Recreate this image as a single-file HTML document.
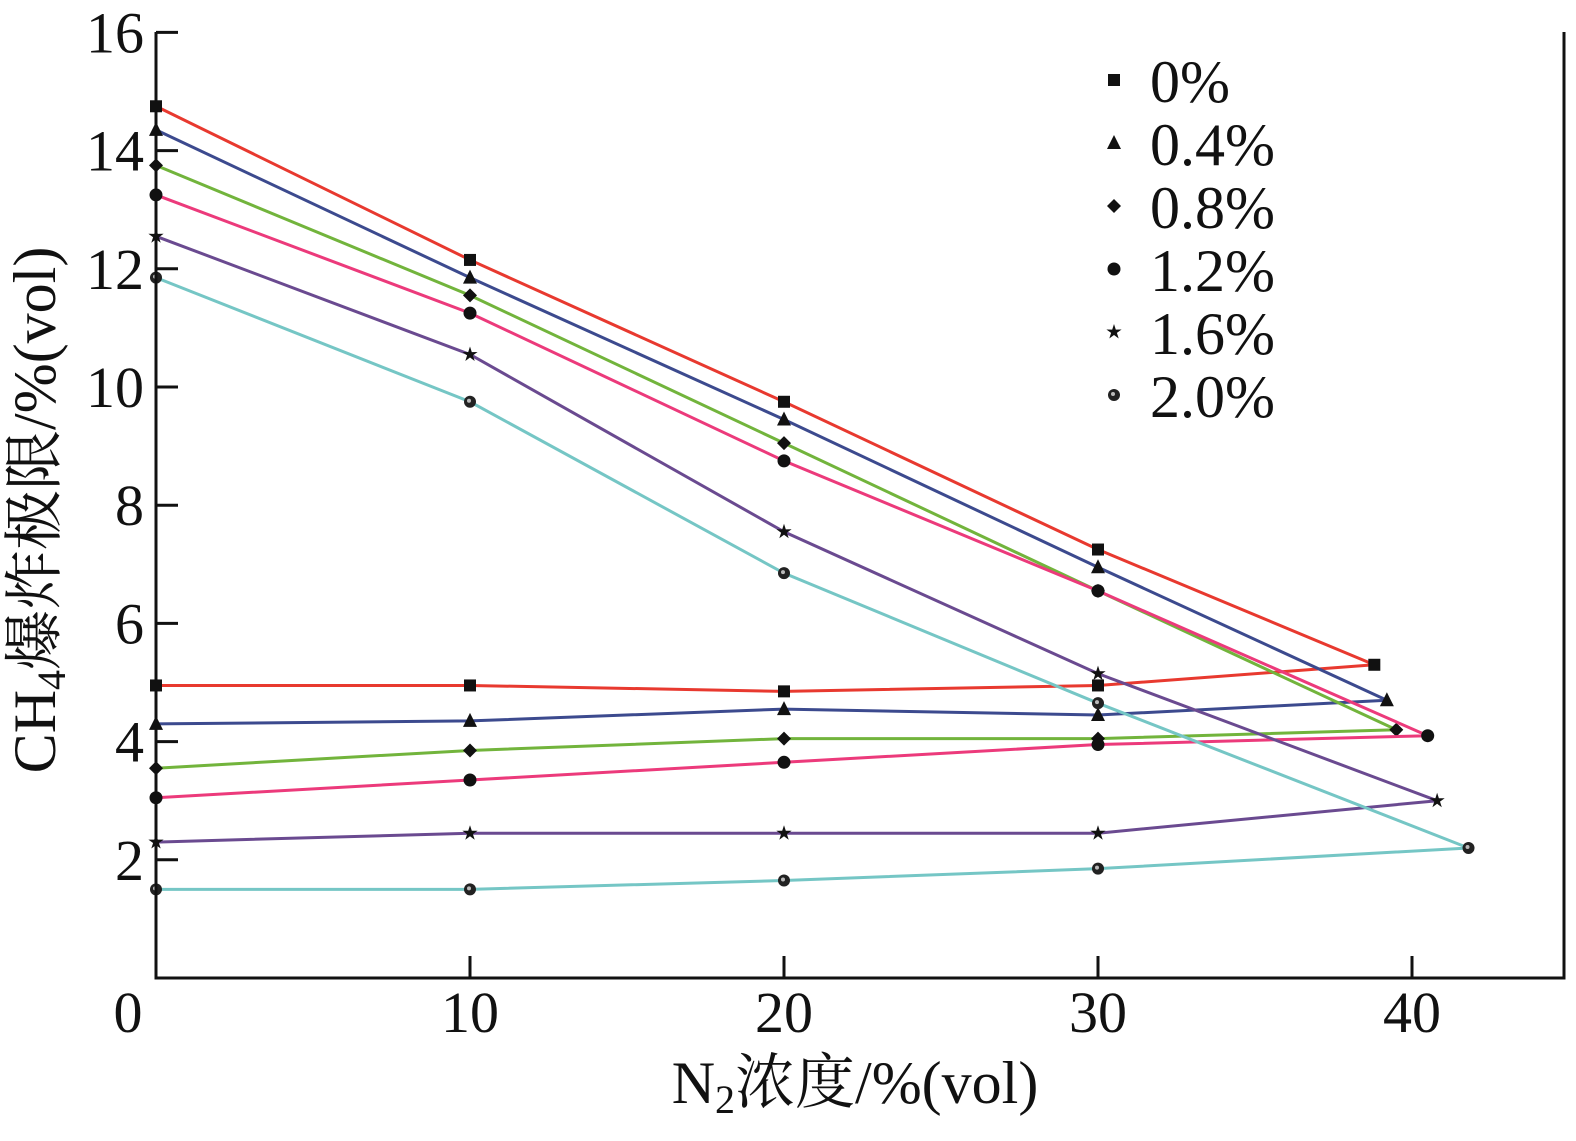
<!DOCTYPE html>
<html><head><meta charset="utf-8"><style>
body{margin:0;background:#fff;}
svg{display:block;font-family:"Liberation Serif","Noto Serif CJK SC",serif;}
</style></head><body>
<svg id="chart" width="1576" height="1141" viewBox="0 0 1576 1141">
<g id="plot"></g>
</svg>
<script>
const xVals=[0,10,20,30];
const seriesNames=["0%","0.4%","0.8%","1.2%","1.6%","2.0%"];
const endX=[38.8,39.2,39.5,40.5,40.8,41.8];
const endY=[5.3,4.7,4.2,4.1,3.0,2.2];
const upper0=[14.75,12.15,9.75,7.25];
const upper1=[14.35,11.85,9.45,6.95];
const upper2=[13.75,11.55,9.05,6.55];
const upper3=[13.25,11.25,8.75,6.55];
const upper4=[12.55,10.55,7.55,5.15];
const upper5=[11.85,9.75,6.85,4.65];
const lower0=[4.95,4.95,4.85,4.95];
const lower1=[4.3,4.35,4.55,4.45];
const lower2=[3.55,3.85,4.05,4.05];
const lower3=[3.05,3.35,3.65,3.95];
const lower4=[2.3,2.45,2.45,2.45];
const lower5=[1.5,1.5,1.65,1.85];
const xTicks=[0,10,20,30,40];
const yTicks=[2,4,6,8,10,12,14,16];
const uppers=[upper0,upper1,upper2,upper3,upper4,upper5];
const lowers=[lower0,lower1,lower2,lower3,lower4,lower5];
const colors=["#e8392f","#3c4a8e","#72b43c","#ec3a7b","#6a4a90","#75c6c5"];
const markers=["square","triangle","diamond","circle","star","ball"];
const X0=156,XS=31.4,Y0=978,YS=59.1,XR=1564,YT=32;
const sx=v=>X0+v*XS, sy=v=>Y0-v*YS;
const NS="http://www.w3.org/2000/svg";
const g=document.getElementById('plot');
function mk(t,a,p){const e=document.createElementNS(NS,t);for(const k in a)e.setAttribute(k,a[k]);(p||g).appendChild(e);return e;}
function marker(type,x,y,p){
 let e;
 if(type==="square")e=mk('rect',{x:x-6,y:y-6,width:12,height:12,fill:'#111'},p);
 else if(type==="triangle")e=mk('polygon',{points:`${x},${y-8} ${x-7},${y+6} ${x+7},${y+6}`,fill:'#111'},p);
 else if(type==="diamond")e=mk('polygon',{points:`${x},${y-7} ${x+7},${y} ${x},${y+7} ${x-7},${y}`,fill:'#111'},p);
 else if(type==="circle")e=mk('circle',{cx:x,cy:y,r:6.5,fill:'#111'},p);
 else if(type==="star"){let pts=[];for(let i=0;i<10;i++){const r=i%2?3:8,a=-Math.PI/2+i*Math.PI/5;pts.push((x+r*Math.cos(a)).toFixed(1)+','+(y+r*Math.sin(a)).toFixed(1));}e=mk('polygon',{points:pts.join(' '),fill:'#111'},p);}
 else {e=mk('circle',{cx:x,cy:y,r:6,fill:'#222'},p);mk('circle',{cx:x-1,cy:y-1,r:2,fill:'#bbb'},p);}
 return e;
}
for(let s=0;s<6;s++){
 const grp=mk('g',{});
 
 
 const up=xVals.map((x,i)=>sx(x)+','+sy(uppers[s][i]));
 const lo=xVals.map((x,i)=>sx(x)+','+sy(lowers[s][i]));
 const pts=up.concat([sx(endX[s])+','+sy(endY[s])]).concat(lo.slice().reverse());
 const pl=mk('polyline',{points:pts.join(' '),fill:'none',stroke:colors[s],'stroke-width':3},grp);
 
 
 xVals.forEach((x,i)=>{marker(markers[s],sx(x),sy(uppers[s][i]),grp);marker(markers[s],sx(x),sy(lowers[s][i]),grp);});
 marker(markers[s],sx(endX[s]),sy(endY[s]),grp);
}
const ax=mk('g',{});


mk('polyline',{points:`${X0},${YT} ${X0},${Y0} ${XR},${Y0} ${XR},${YT}`,fill:'none',stroke:'#111','stroke-width':3},ax);
yTicks.forEach(v=>{mk('line',{x1:X0,x2:X0+22,y1:sy(v),y2:sy(v),stroke:'#111','stroke-width':3},ax);
 const t=mk('text',{x:X0-12,y:sy(v)+20,'font-size':58,'text-anchor':'end',fill:'#111'},ax);t.textContent=v;
 });
xTicks.forEach(v=>{if(v>0)mk('line',{x1:sx(v),x2:sx(v),y1:Y0,y2:Y0-22,stroke:'#111','stroke-width':3},ax);
 const t=mk('text',{x:v===0?128:sx(v),y:1032,'font-size':58,'text-anchor':'middle',fill:'#111'},ax);t.textContent=v;
 });
const lg=mk('g',{});


seriesNames.forEach((n,i)=>{const y=80+i*63;marker(markers[i],1114,y,lg);
 const t=mk('text',{x:1150,y:y+22,'font-size':60,fill:'#111'},lg);t.textContent=n;
 });
</script>
<svg style="position:absolute;left:0;top:0" width="1576" height="1141">
<text x="855" y="1103" font-size="60" text-anchor="middle" fill="#111" font-family="Liberation Serif, Noto Serif CJK SC, serif">N<tspan font-size="40" dy="10">2</tspan><tspan dy="-10">浓度/%(vol)</tspan></text>
<text transform="translate(55,510) rotate(-90)" font-size="60" text-anchor="middle" fill="#111" font-family="Liberation Serif, Noto Serif CJK SC, serif">CH<tspan font-size="40" dy="10">4</tspan><tspan dy="-10">爆炸极限/%(vol)</tspan></text>
</svg>
</body></html>
